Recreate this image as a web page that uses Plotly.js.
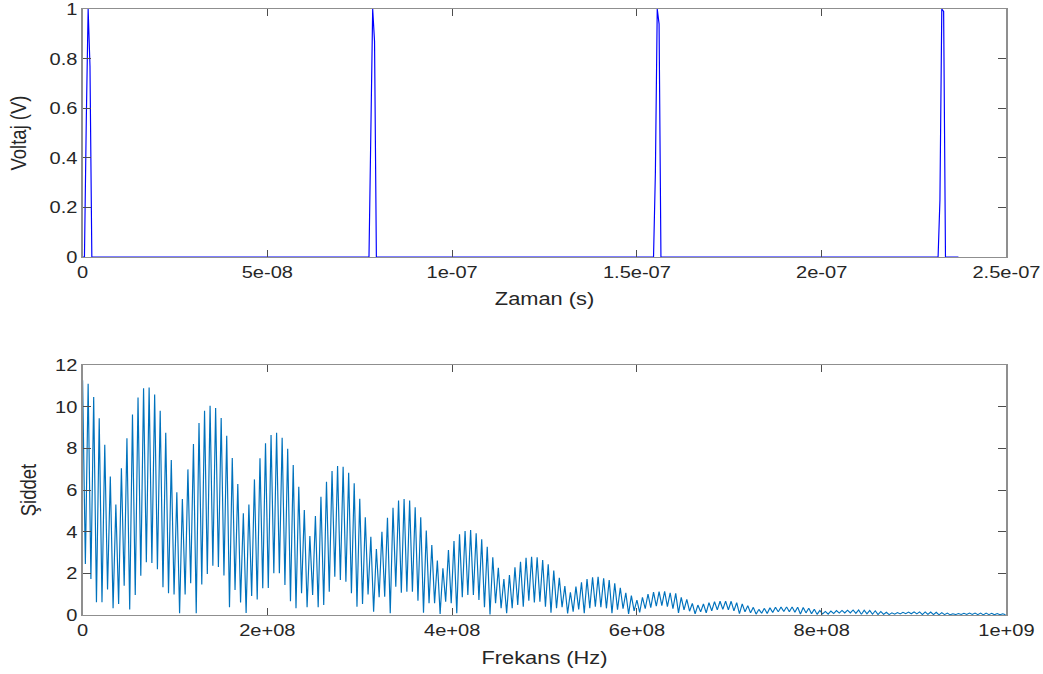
<!DOCTYPE html>
<html>
<head>
<meta charset="utf-8">
<script src="https://cdn.plot.ly/plotly-3.0.1.min.js"></script>
<style>
html,body{margin:0;padding:0;background:#fff;overflow:hidden;}
#wrap{width:1043px;height:674px;overflow:hidden;position:relative;}
#plot{width:884px;height:674px;transform:scaleX(1.1799);transform-origin:0 0;}
</style>
</head>
<body>
<div id="wrap"><div id="plot"></div></div>
<script>
// ---- Time-domain signal (pulse train) ----
const timeS = [0, 0.5e-9, 1.0e-9, 1.5e-9, 2.0e-9, 2.5e-9,
               77.5e-9, 78.0e-9, 78.5e-9, 79.0e-9, 79.5e-9,
               154.5e-9, 155.0e-9, 155.5e-9, 156.0e-9, 156.5e-9,
               231.5e-9, 232.0e-9, 232.5e-9, 233.0e-9, 233.5e-9,
               237.0e-9];
const voltage = [0, 0, 0.55, 1, 0.77, 0,
                 0, 0.45, 1, 0.87, 0,
                 0, 0.34, 1, 0.94, 0,
                 0, 0.23, 1, 0.99, 0,
                 0];

// ---- Spectrum: local maxima and minima of each oscillation ----
const peakMag = [
 11.27, 11.1, 10.46, 9.45, 8.17, 6.65, 5.3, 7.05, 8.48, 9.63,
 10.44, 10.89, 10.92, 10.58, 9.81, 8.75, 7.44, 5.89, 5.57, 6.99,
 8.21, 9.22, 9.81, 10.05, 9.94, 9.46, 8.61, 7.54, 6.29, 4.88,
 5.30, 6.51, 7.52, 8.24, 8.64, 8.75, 8.51, 7.98, 7.2, 6.16,
 5.04, 3.79, 4.75, 5.68, 6.4, 6.91, 7.15, 7.12, 6.83, 6.32,
 5.58, 4.69, 3.76, 3.17, 4.0, 4.67, 5.15, 5.49, 5.57, 5.49,
 5.17, 4.69, 4.05, 3.36, 2.61, 2.24, 3.12, 3.55, 3.87, 4.03,
 4.08, 3.92, 3.63, 3.28, 2.77, 2.27, 1.73, 1.92, 2.29, 2.56,
 2.75, 2.8, 2.77, 2.64, 2.43, 2.13, 1.79, 1.39, 1.09, 1.36,
 1.57, 1.73, 1.81, 1.84, 1.76, 1.68, 1.52, 1.31, 1.07, 0.93,
 0.72, 0.85, 1.01, 1.10, 1.12, 1.14, 1.07, 1.04, 0.85, 0.75,
 0.56, 0.48, 0.53, 0.59, 0.64, 0.66, 0.67, 0.66, 0.59, 0.53,
 0.45, 0.37, 0.27, 0.32, 0.35, 0.37, 0.38, 0.39, 0.39, 0.38,
 0.36, 0.33, 0.28, 0.22, 0.17, 0.19, 0.21, 0.22, 0.23, 0.24,
 0.24, 0.23, 0.22, 0.2, 0.17, 0.13, 0.1, 0.12, 0.13, 0.14,
 0.15, 0.15, 0.15, 0.14, 0.13, 0.11, 0.09, 0.06, 0.07, 0.08,
 0.09, 0.09, 0.09, 0.09, 0.08, 0.07, 0.06
];
const troughMag = [
 2.45, 1.73, 0.61, 0.61, 1.22, 0.32, 0.53, 1.41, 0.26, 0.96,
 1.89, 2.53, 2.5, 2.2, 1.33, 1.04, 0.98, 0.08, 0.98, 1.52,
 0.08, 1.46, 1.97, 2.37, 2.3, 1.9, 0.37, 1.2, 0.6, 0.1,
 0.91, 0.75, 1.28, 1.3, 2.0, 2.0, 1.44, 0.66, 0.32, 1.04,
 0.37, 0.96, 0.37, 0.48, 1.12, 1.84, 1.68, 1.6, 1.04, 0.4,
 0.53, 0.99, 0.16, 0.85, 0.88, 0.08, 1.36, 1.07, 1.12, 1.12,
 0.69, 0.11, 0.56, 0.56, 0.05, 0.64, 0.56, 0.08, 0.85, 0.96,
 0.96, 0.72, 0.37, 0.03, 0.56, 0.32, 0.08, 0.32, 0.48, 0.4,
 0.69, 0.6, 0.64, 0.4, 0.11, 0.32, 0.37, 0.08, 0.16, 0.27,
 0.08, 0.32, 0.4, 0.37, 0.32, 0.08, 0.25, 0.3, 0.05, 0.2,
 0.12, 0.3, 0.35, 0.42, 0.45, 0.4, 0.3, 0.1, 0.25, 0.18,
 0.05, 0.15, 0.1, 0.2, 0.25, 0.27, 0.25, 0.2, 0.06, 0.15,
 0.1, 0.04, 0.08, 0.07, 0.12, 0.15, 0.17, 0.16, 0.13, 0.04,
 0.1, 0.06, 0.03, 0.05, 0.04, 0.07, 0.09, 0.1, 0.1, 0.08,
 0.03, 0.06, 0.04, 0.02, 0.03, 0.02, 0.04, 0.05, 0.06, 0.06,
 0.05, 0.02, 0.03, 0.02, 0.01, 0.02, 0.01, 0.02, 0.03, 0.03,
 0.03, 0.02, 0.01, 0.02, 0.01, 0.01, 0.01
];
const freqStepHz = 3.0e6;   // spacing between successive extrema

// ---- Tick labels ----
const timeTickVals = [0, 5e-8, 1e-7, 1.5e-7, 2e-7, 2.5e-7];
const timeTickText = ['0', '5e-08', '1e-07', '1.5e-07', '2e-07', '2.5e-07'];
const voltTickVals = [0, 0.2, 0.4, 0.6, 0.8, 1];
const voltTickText = ['0', '0.2', '0.4', '0.6', '0.8', '1'];
const freqTickVals = [0, 2e8, 4e8, 6e8, 8e8, 1e9];
const freqTickText = ['0', '2e+08', '4e+08', '6e+08', '8e+08', '1e+09'];
const magTickVals = [0, 2, 4, 6, 8, 10, 12];
const magTickText = ['0', '2', '4', '6', '8', '10', '12'];

// build spectrum series
const mag = [];
for (let i = 0; i < peakMag.length; i++) {
  mag.push(peakMag[i]);
  if (i < troughMag.length) mag.push(troughMag[i]);
}
const freq = mag.map((_, i) => i * freqStepHz);

const FONT = 'Liberation Sans, Arial, Helvetica, sans-serif';
const txtColor = '#262626';
function axisBase() {
  return {
    showline: true, linecolor: '#8f8f8f', linewidth: 1, mirror: 'ticks',
    ticks: 'inside', ticklen: 7, tickwidth: 1, tickcolor: '#4d4d4d',
    showgrid: false, zeroline: false, ticklabeloverflow: 'allow',
    tickfont: {family: FONT, size: 17, color: txtColor}
  };
}

const traces = [
  {x: timeS, y: voltage, type: 'scatter', mode: 'lines',
   line: {color: '#0000ff', width: 1}, xaxis: 'x', yaxis: 'y', hoverinfo: 'skip', cliponaxis: false},
  {x: freq, y: mag, type: 'scatter', mode: 'lines',
   line: {color: '#0072bd', width: 1}, xaxis: 'x2', yaxis: 'y2', hoverinfo: 'skip'}
];

const layout = {
  width: 884, height: 674,
  margin: {l: 69.5, r: 30.5, t: 9, b: 59, autoexpand: false},
  paper_bgcolor: '#ffffff', plot_bgcolor: '#ffffff',
  showlegend: false,
  xaxis: Object.assign(axisBase(), {
    domain: [0, 1], anchor: 'y', range: [0, 2.5e-7],
    tickmode: 'array', tickvals: timeTickVals, ticktext: timeTickText,
    title: {text: 'Zaman (s)', font: {family: FONT, size: 18.5, color: txtColor}, standoff: 10}
  }),
  yaxis: Object.assign(axisBase(), {
    domain: [0.5908, 1], anchor: 'x', range: [0, 1.0000001],
    tickmode: 'array', tickvals: voltTickVals, ticktext: voltTickText,
    title: {text: 'Voltaj (V)', font: {family: FONT, size: 18.5, color: txtColor}, standoff: 14}
  }),
  xaxis2: Object.assign(axisBase(), {
    domain: [0, 1], anchor: 'y2', range: [0, 1e9],
    tickmode: 'array', tickvals: freqTickVals, ticktext: freqTickText,
    title: {text: 'Frekans (Hz)', font: {family: FONT, size: 18.5, color: txtColor}, standoff: 11}
  }),
  yaxis2: Object.assign(axisBase(), {
    domain: [0, 0.4125], anchor: 'x2', range: [0, 12],
    tickmode: 'array', tickvals: magTickVals, ticktext: magTickText,
    title: {text: 'Şiddet', font: {family: FONT, size: 18.5, color: txtColor}, standoff: 10.5}
  })
};

Plotly.newPlot('plot', traces, layout, {staticPlot: true, displayModeBar: false});
</script>
</body>
</html>
